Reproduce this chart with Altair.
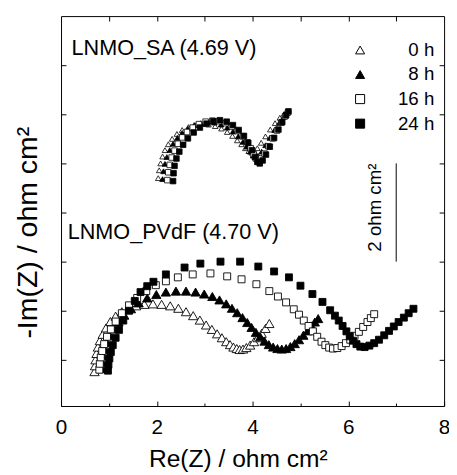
import altair as alt
import pandas as pd

FONT = "Liberation Sans"
times = ["0 h", "8 h", "16 h", "24 h"]
marker_kind = {"0 h": "tri", "8 h": "tri", "16 h": "sq", "24 h": "sq"}

# ---- LNMO_PVdF (4.70 V) ----
pv0_x = [0.70, 0.71, 0.72, 0.74, 0.77, 0.81, 0.87, 0.94, 1.03, 1.14, 1.27, 1.41, 1.57, 1.74, 1.92, 2.10, 2.28, 2.45, 2.61, 2.76,
         2.90, 3.03, 3.15, 3.26, 3.36, 3.45, 3.53, 3.60, 3.67, 3.73, 3.80, 3.87, 3.95, 4.03, 4.11, 4.19, 4.27, 4.35]
pv0_y = [-0.24, -0.12, 0.00, 0.13, 0.26, 0.39, 0.52, 0.65, 0.78, 0.89, 0.98, 1.05, 1.10, 1.13, 1.14, 1.13, 1.10, 1.05, 0.98, 0.90,
         0.81, 0.71, 0.62, 0.53, 0.45, 0.37, 0.31, 0.26, 0.23, 0.21, 0.22, 0.25, 0.30, 0.37, 0.45, 0.54, 0.64, 0.74]
pv8_x = [0.85, 0.86, 0.88, 0.91, 0.96, 1.02, 1.10, 1.20, 1.32, 1.46, 1.62, 1.80, 1.99, 2.19, 2.40, 2.61, 2.81, 2.99, 3.16, 3.31,
         3.45, 3.57, 3.68, 3.79, 3.89, 3.98, 4.07, 4.16, 4.25, 4.34, 4.43, 4.52, 4.61, 4.70, 4.79, 4.88, 4.97, 5.06, 5.15, 5.23,
         5.30, 5.37]
pv8_y = [-0.18, -0.05, 0.08, 0.21, 0.35, 0.49, 0.63, 0.77, 0.91, 1.04, 1.16, 1.26, 1.33, 1.38, 1.40, 1.40, 1.38, 1.34, 1.29, 1.22,
         1.14, 1.05, 0.96, 0.86, 0.76, 0.66, 0.56, 0.47, 0.38, 0.31, 0.26, 0.23, 0.22, 0.23, 0.27, 0.33, 0.41, 0.50, 0.59, 0.69,
         0.77, 0.84]
pv16_x = [0.80, 0.81, 0.83, 0.86, 0.90, 0.96, 1.04, 1.14, 1.27, 1.42, 1.59, 1.78, 1.98, 2.19, 2.44, 2.75, 3.12, 3.47, 3.77, 4.08,
          4.35, 4.53, 4.70, 4.86, 4.97, 5.07, 5.17, 5.26, 5.35, 5.44, 5.52, 5.60, 5.68, 5.77, 5.86, 5.95, 6.04, 6.13, 6.22, 6.31,
          6.40, 6.47, 6.54]
pv16_y = [-0.20, -0.08, 0.05, 0.18, 0.32, 0.47, 0.62, 0.78, 0.95, 1.11, 1.26, 1.40, 1.52, 1.60, 1.68, 1.74, 1.76, 1.70, 1.64, 1.54,
          1.40, 1.29, 1.17, 1.03, 0.92, 0.80, 0.69, 0.58, 0.47, 0.37, 0.30, 0.25, 0.23, 0.24, 0.28, 0.34, 0.41, 0.49, 0.57, 0.67,
          0.77, 0.85, 0.93]
pv24_x = [0.98, 0.99, 1.01, 1.04, 1.08, 1.14, 1.21, 1.30, 1.42, 1.54, 1.66, 1.80, 1.93, 2.19, 2.58, 2.91, 3.33, 3.74, 4.12, 4.45,
          4.76, 5.00, 5.25, 5.46, 5.62, 5.72, 5.80, 5.88, 5.96, 6.03, 6.10, 6.17, 6.25, 6.34, 6.44, 6.54, 6.64, 6.75, 6.85, 6.95,
          7.05, 7.16, 7.26, 7.36]
pv24_y = [-0.22, -0.10, 0.03, 0.16, 0.30, 0.45, 0.61, 0.80, 1.00, 1.20, 1.38, 1.50, 1.59, 1.74, 1.88, 1.96, 2.00, 2.00, 1.90, 1.80,
          1.68, 1.51, 1.34, 1.18, 1.01, 0.90, 0.80, 0.69, 0.58, 0.48, 0.39, 0.32, 0.27, 0.26, 0.29, 0.34, 0.41, 0.50, 0.59, 0.68,
          0.77, 0.86, 0.95, 1.04]

# ---- LNMO_SA (4.69 V) (offset upward in the figure) ----
sa0_x = [2.03, 2.05, 2.08, 2.12, 2.17, 2.24, 2.32, 2.42, 2.53, 2.66, 2.80, 2.94, 3.08, 3.22, 3.35, 3.47, 3.58, 3.68, 3.77, 3.85,
         3.92, 3.98, 4.04, 4.10, 4.18, 4.27, 4.37, 4.47, 4.57, 4.66]
sa0_y = [3.70, 3.86, 4.00, 4.14, 4.27, 4.39, 4.50, 4.60, 4.68, 4.74, 4.78, 4.80, 4.79, 4.76, 4.71, 4.64, 4.56, 4.47, 4.39, 4.31,
         4.25, 4.22, 4.24, 4.31, 4.42, 4.55, 4.69, 4.82, 4.93, 5.01]
sa8_x = [2.12, 2.14, 2.17, 2.21, 2.27, 2.34, 2.43, 2.53, 2.65, 2.78, 2.92, 3.06, 3.20, 3.34, 3.47, 3.59, 3.70, 3.80, 3.88, 3.95,
         4.01, 4.06, 4.12, 4.19, 4.27, 4.36, 4.46, 4.56, 4.65, 4.72]
sa8_y = [3.68, 3.84, 3.99, 4.13, 4.27, 4.40, 4.52, 4.62, 4.71, 4.78, 4.82, 4.84, 4.83, 4.79, 4.73, 4.65, 4.55, 4.44, 4.34, 4.24,
         4.16, 4.12, 4.15, 4.24, 4.37, 4.52, 4.68, 4.83, 4.95, 5.03]
sa16_x = [2.22, 2.24, 2.27, 2.31, 2.37, 2.44, 2.53, 2.63, 2.75, 2.88, 3.02, 3.16, 3.30, 3.44, 3.57, 3.69, 3.80, 3.89, 3.96, 4.02,
          4.07, 4.12, 4.18, 4.25, 4.33, 4.42, 4.51, 4.60, 4.68, 4.74]
sa16_y = [3.66, 3.82, 3.97, 4.12, 4.26, 4.40, 4.53, 4.64, 4.73, 4.80, 4.85, 4.87, 4.86, 4.82, 4.75, 4.66, 4.55, 4.43, 4.31, 4.19,
          4.10, 4.06, 4.10, 4.20, 4.35, 4.51, 4.67, 4.83, 4.96, 5.04]
sa24_x = [2.34, 2.35, 2.37, 2.41, 2.47, 2.55, 2.65, 2.77, 2.90, 3.04, 3.18, 3.32, 3.46, 3.59, 3.71, 3.82, 3.91, 3.99, 4.05, 4.10,
          4.15, 4.21, 4.28, 4.36, 4.45, 4.54, 4.62, 4.70, 4.75]
sa24_y = [3.64, 3.80, 3.95, 4.10, 4.24, 4.38, 4.51, 4.63, 4.73, 4.81, 4.86, 4.88, 4.85, 4.78, 4.68, 4.56, 4.42, 4.27, 4.13, 4.03,
          4.00, 4.06, 4.18, 4.34, 4.52, 4.69, 4.84, 4.98, 5.06]

# annotations
label_texts = ["LNMO_SA (4.69 V)", "LNMO_PVdF (4.70 V)"]
label_x = [0.22, 0.14]
label_y = [6.20, 2.46]
bar_x = [7.0]
bar_y1 = [4.0]
bar_y2 = [2.0]
bar_text = ["2 ohm cm²"]
bar_text_x = [6.56]
bar_text_y = [3.1]

x_major = [0, 2, 4, 6, 8]
x_minor = [1, 3, 5, 7]
x_top = [1, 2, 3, 4, 5, 6, 7]
y_ticks = [0, 1, 2, 3, 4, 5, 6]


def build(series):
    rows = []
    for t, xs, ys in series:
        for x, y in zip(xs, ys):
            rows.append({"time": t, "x": x, "y": y, "order": times.index(t), "mk": marker_kind[t]})
    return pd.DataFrame(rows)


df_pv = build([("0 h", pv0_x, pv0_y), ("8 h", pv8_x, pv8_y), ("16 h", pv16_x, pv16_y), ("24 h", pv24_x, pv24_y)])
df_sa = build([("0 h", sa0_x, sa0_y), ("8 h", sa8_x, sa8_y), ("16 h", sa16_x, sa16_y), ("24 h", sa24_x, sa24_y)])
df_lab = pd.DataFrame({"x": label_x, "y": label_y, "t": label_texts})
df_bar = pd.DataFrame({"x": bar_x, "y": bar_y1, "y2": bar_y2})
df_bt = pd.DataFrame({"x": bar_text_x, "y": bar_text_y, "t": bar_text})

xscale = alt.Scale(domain=[0, 8], nice=False, zero=False)
yscale = alt.Scale(domain=[-0.94, 7.0], nice=False, zero=False)
shape_s = alt.Scale(domain=times, range=["triangle-up", "triangle-up", "square", "square"])
fill_s = alt.Scale(domain=times, range=["white", "black", "white", "black"])
stroke_s = alt.Scale(domain=times, range=["black", "black", "black", "black"])
size_s = alt.Scale(domain=["tri", "sq"], range=[90, 50])

legend = alt.Legend(title=None, orient="none", legendX=295, legendY=25, padding=0,
                    labelFont=FONT, labelFontSize=19, labelColor="black", labelAlign="right",
                    labelOffset=66, rowPadding=5, symbolSize=85, symbolStrokeWidth=1)

main_x = alt.Axis(values=x_major, orient="bottom", offset=-5, tickSize=5, tickColor="black", tickWidth=1,
                  domain=False, grid=False, labelFont=FONT, labelFontSize=21, labelColor="black",
                  labelPadding=11, labelFlush=False, labelOverlap=False,
                  title="Re(Z) / ohm cm²", titleFont=FONT, titleFontSize=25, titleFontWeight="normal",
                  titleColor="black", titleX=180, titleY=67, titleBaseline="alphabetic", titleAlign="center")
main_y = alt.Axis(values=y_ticks, orient="left", offset=-5, tickSize=5, tickColor="black", tickWidth=1,
                  domain=False, grid=False, labels=False,
                  title="-Im(Z) / ohm cm²", titleFont=FONT, titleFontSize=29, titleFontWeight="normal",
                  titleColor="black", titleX=-39, titleY=220, titleBaseline="middle", titleAlign="center")

pts_sa = alt.Chart(df_sa).mark_point(filled=True, strokeWidth=0.8, opacity=1).encode(
    x=alt.X("x:Q", scale=xscale, axis=None),
    y=alt.Y("y:Q", scale=yscale, axis=None),
    shape=alt.Shape("time:N", scale=shape_s, legend=legend, sort=times),
    fill=alt.Fill("time:N", scale=fill_s, legend=legend, sort=times),
    stroke=alt.Stroke("time:N", scale=stroke_s, legend=legend, sort=times),
    size=alt.value(32),
    order=alt.Order("order:Q"),
)

pts_pv = alt.Chart(df_pv).mark_point(filled=True, strokeWidth=0.9, opacity=1).encode(
    x=alt.X("x:Q", scale=xscale, axis=main_x),
    y=alt.Y("y:Q", scale=yscale, axis=main_y),
    shape=alt.Shape("time:N", scale=shape_s, legend=legend, sort=times),
    fill=alt.Fill("time:N", scale=fill_s, legend=legend, sort=times),
    stroke=alt.Stroke("time:N", scale=stroke_s, legend=legend, sort=times),
    size=alt.Size("mk:N", scale=size_s, legend=None),
    order=alt.Order("order:Q"),
)

ax2 = alt.Chart(df_pv).mark_point(opacity=0).encode(
    x=alt.X("x:Q", scale=xscale, axis=alt.Axis(values=x_minor, orient="bottom", offset=-3, tickSize=3,
                                               tickColor="black", labels=False, domain=False, grid=False, title=None)),
    y=alt.Y("y:Q", scale=yscale, axis=alt.Axis(values=y_ticks, orient="right", offset=-5, tickSize=5,
                                               tickColor="black", labels=False, domain=False, grid=False, title=None)),
)
ax3 = alt.Chart(df_pv).mark_point(opacity=0).encode(
    x=alt.X("x:Q", scale=xscale, axis=alt.Axis(values=x_top, orient="top", offset=-5, tickSize=5,
                                               tickColor="black", labels=False, domain=False, grid=False, title=None)),
    y=alt.Y("y:Q", scale=yscale, axis=None),
)

labels = alt.Chart(df_lab).mark_text(align="left", baseline="alphabetic", font=FONT, fontSize=22, color="black").encode(
    x=alt.X("x:Q", scale=xscale, axis=None),
    y=alt.Y("y:Q", scale=yscale, axis=None),
    text="t:N",
)
bar = alt.Chart(df_bar).mark_rule(color="black", strokeWidth=1).encode(
    x=alt.X("x:Q", scale=xscale, axis=None),
    y=alt.Y("y:Q", scale=yscale, axis=None),
    y2="y2:Q",
)
bar_lab = alt.Chart(df_bt).mark_text(angle=270, align="center", baseline="middle", font=FONT, fontSize=19,
                                      color="black").encode(
    x=alt.X("x:Q", scale=xscale, axis=None),
    y=alt.Y("y:Q", scale=yscale, axis=None),
    text="t:N",
)

chart = alt.layer(pts_pv, pts_sa, ax2, ax3, labels, bar, bar_lab).resolve_axis(
    x="independent", y="independent"
).properties(
    width=390, height=397,
    padding={"left": 54, "top": 4, "right": 5, "bottom": 66},
    autosize=alt.AutoSizeParams(type="none"),
).configure(font=FONT).configure_view(stroke="black", strokeWidth=1)

chart.save("out.html", embed_options={"renderer": "svg", "actions": False})
